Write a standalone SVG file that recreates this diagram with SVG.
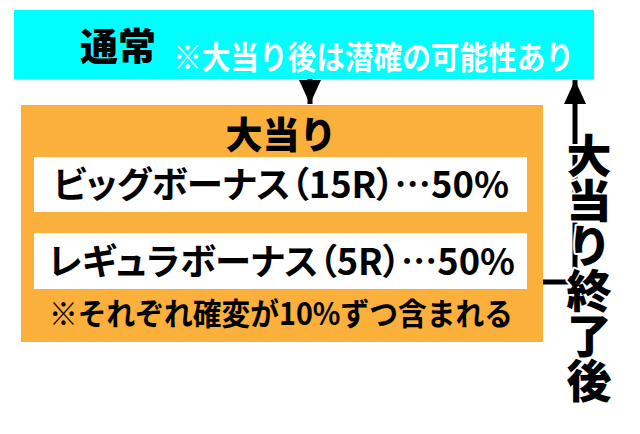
<svg xmlns="http://www.w3.org/2000/svg" width="640" height="434" viewBox="0 0 640 434">
<style>
.jp{font-family:"Noto Sans CJK JP","Noto Sans",sans-serif;font-weight:700;}
.hv{font-weight:900;}
.k{fill:#000;}
.w{fill:#fff;}
.p{font-feature-settings:"palt" 1;}
.ln{stroke:#000;stroke-width:5;fill:none;}
.halo{stroke:#fff;stroke-width:4;paint-order:stroke;stroke-linejoin:round;}
</style>
<defs>
<marker id="ah" markerUnits="userSpaceOnUse" markerWidth="26" markerHeight="22" refX="24" refY="11" orient="auto" viewBox="0 0 26 22">
<path d="M0,0 L24,11 L0,22 Z" fill="#000"/>
</marker>
</defs>
<rect width="640" height="434" fill="#fff"/>
<g id="normal">
<rect x="14" y="10" width="580" height="69" fill="#00FFFF"/>
<text class="jp hv k" x="80" y="60" font-size="38">通常</text>
<text class="jp w" x="173" y="69" font-size="32" textLength="401" lengthAdjust="spacingAndGlyphs">※大当り後は潜確の可能性あり</text>
</g>
<g id="bonus">
<rect x="21" y="105" width="522" height="237" fill="#FBB03B"/>
<text class="jp hv k" x="281" y="149" font-size="37" text-anchor="middle">大当り</text>
<rect x="34" y="157" width="493" height="55" fill="#fff"/>
<text class="jp p k" x="53" y="198" font-size="36" textLength="456" lengthAdjust="spacingAndGlyphs">ビッグボーナス（15R）…50%</text>
<rect x="34" y="233" width="493" height="56" fill="#fff"/>
<text class="jp p k" x="48" y="275" font-size="36" textLength="467" lengthAdjust="spacingAndGlyphs">レギュラボーナス（5R）…50%</text>
<text class="jp k" x="49" y="325" font-size="31" textLength="464" lengthAdjust="spacingAndGlyphs">※それぞれ確変が10%ずつ含まれる</text>
</g>
<g id="connectors">
<line class="ln" x1="310" y1="79" x2="310" y2="104" marker-end="url(#ah)"/>
<path class="ln" d="M543,282 H575 V80" marker-end="url(#ah)"/>
</g>
<g id="after-label">
<text class="jp hv k halo" x="589" y="133" font-size="45" style="writing-mode:vertical-rl">大当り終了後</text>
</g>
</svg>
